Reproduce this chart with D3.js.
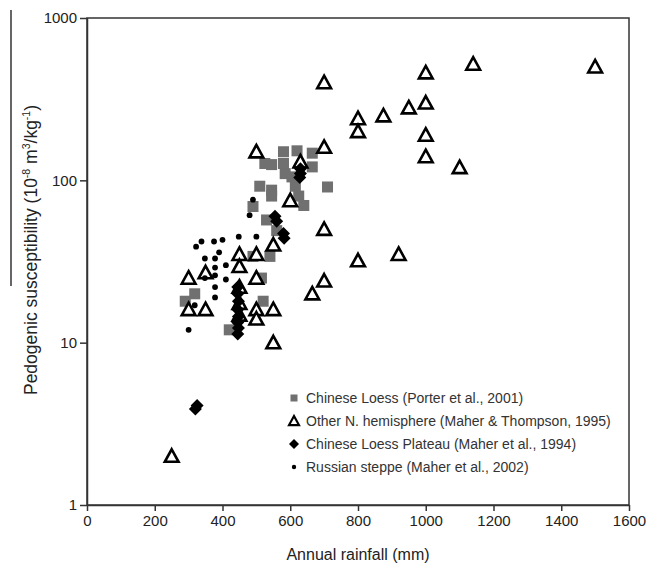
<!DOCTYPE html>
<html><head><meta charset="utf-8">
<script src="https://cdn.jsdelivr.net/npm/d3@7"></script>
<style>
html,body{margin:0;padding:0;background:#fff;}
svg{display:block;font-family:"Liberation Sans",Arial,sans-serif;}
</style></head>
<body>
<svg id="chart" width="649" height="570"></svg>
<script>
// ---- data (annual rainfall mm, pedogenic susceptibility 10^-8 m3/kg) ----
const chineseLoessX = [580,620,665,525,545,580,665,585,510,545,545,615,625,640,710,490,530,560,540,490,515,520,420,318,290,605];
const chineseLoessY = [150,152,147,127,125,127,121,110,92,87,80,92,80,70,91,69,57,49,34,34,25,18,12,20,18,105];

const otherNHX = [250,300,300,350,350,450,450,450,450,450,500,500,500,500,500,550,550,550,600,630,665,700,700,700,700,800,800,800,875,920,950,1000,1000,1000,1000,1100,1140,1500];
const otherNHY = [2,25,16,27,16,35,29.5,22,17.5,14.8,150,35,25,16,14,40,16,10,75,130,20,400,160,50,24,240,200,32,250,35,280,460,300,190,140,120,520,500];

const loessPlateauX = [320,325,630,630,628,555,560,580,582,445,445,447,445,447,445,447,445];
const loessPlateauY = [3.9,4.1,118,110,104,60,56,47,44,22,20,18,16,14.5,13.3,12.3,11.3];

const russianX = [490,480,448,500,338,375,400,390,348,378,410,378,348,378,410,378,318,378,300,322];
const russianY = [76,61,45,45,42,42,43,36,33,33,30,29,25,26,24.5,22,17,19,12,39];

const xTicks = [0,200,400,600,800,1000,1200,1400,1600];
const yTicks = [1,10,100,1000];

const legendLabels = [
  "Chinese Loess (Porter et al., 2001)",
  "Other N. hemisphere (Maher & Thompson, 1995)",
  "Chinese Loess Plateau (Maher et al., 1994)",
  "Russian steppe (Maher et al., 2002)"
];

// ---- chart ----
const svg = d3.select("#chart");
const x = d3.scaleLinear().domain([0,1600]).range([87,629]);
const y = d3.scaleLog().domain([1,1000]).range([505,18]);

const axisColor = "#333";

// stray scan line at top-left
svg.append("line").attr("x1",11).attr("x2",11).attr("y1",10).attr("y2",286)
  .attr("stroke","#000").attr("stroke-width",1.2);

// box
svg.append("rect").attr("x",x(0)).attr("y",y(1000)).attr("width",x(1600)-x(0)).attr("height",y(1)-y(1000))
  .attr("fill","none").attr("stroke",axisColor).attr("stroke-width",1.5);

const gx = svg.append("g").attr("transform",`translate(0,${y(1)})`)
  .call(d3.axisBottom(x).tickValues(xTicks).tickSize(6).tickPadding(4).tickSizeOuter(0).tickFormat(d3.format("d")));
const gy = svg.append("g").attr("transform",`translate(${x(0)},0)`)
  .call(d3.axisLeft(y).tickValues(yTicks).tickSize(7).tickPadding(3).tickSizeOuter(0).tickFormat(d3.format("d")));
[gx,gy].forEach(g=>{
  g.select(".domain").attr("stroke",axisColor).attr("stroke-width",1.5);
  g.selectAll(".tick line").attr("stroke",axisColor).attr("stroke-width",1.5);
  g.selectAll(".tick text").attr("fill","#222").attr("font-size",15)
   .attr("font-family","'Liberation Sans',Arial,sans-serif");
});

// axis titles
svg.append("text").attr("x",(x(0)+x(1600))/2).attr("y",560).attr("text-anchor","middle")
  .attr("font-size",16).attr("fill","#222").text("Annual rainfall (mm)");

const yt = svg.append("text").attr("transform","translate(37,250) rotate(-90)")
  .attr("text-anchor","middle").attr("font-size",17.5).attr("fill","#222");
yt.append("tspan").text("Pedogenic susceptibility (10");
yt.append("tspan").attr("font-size",10.5).attr("dy",-7).text("-8");
yt.append("tspan").attr("dy",7).text(" m");
yt.append("tspan").attr("font-size",10.5).attr("dy",-7).text("3");
yt.append("tspan").attr("dy",7).text("/kg");
yt.append("tspan").attr("font-size",10.5).attr("dy",-7).text("-1");
yt.append("tspan").attr("dy",7).text(")");

// marker shapes
const triPath = (s)=>`M0,${-s*0.55}L${s*0.55},${s*0.45}L${-s*0.55},${s*0.45}Z`;
const diaPath = (s)=>`M0,${-s/2}L${s/2},0L0,${s/2}L${-s/2},0Z`;

const plot = svg.append("g");
// Chinese loess squares
plot.selectAll("rect.cl").data(d3.zip(chineseLoessX,chineseLoessY)).join("rect")
  .attr("class","cl").attr("x",d=>x(d[0])-5.5).attr("y",d=>y(d[1])-5.5)
  .attr("width",11).attr("height",11).attr("fill","#707070");
// other NH triangles
plot.selectAll("path.nh").data(d3.zip(otherNHX,otherNHY)).join("path")
  .attr("class","nh").attr("d",triPath(12.5))
  .attr("transform",d=>`translate(${x(d[0])},${y(d[1])})`)
  .attr("fill","#fff").attr("stroke","#000").attr("stroke-width",2.6).attr("stroke-linejoin","miter");
// Loess plateau diamonds
plot.selectAll("path.lp").data(d3.zip(loessPlateauX,loessPlateauY)).join("path")
  .attr("class","lp").attr("d",diaPath(13))
  .attr("transform",d=>`translate(${x(d[0])},${y(d[1])})`)
  .attr("fill","#000");
// Russian steppe dots
plot.selectAll("circle.rs").data(d3.zip(russianX,russianY)).join("circle")
  .attr("class","rs").attr("cx",d=>x(d[0])).attr("cy",d=>y(d[1])).attr("r",2.9).attr("fill","#000");

// legend
const lg = svg.append("g").attr("transform","translate(294,398)");
const rowH = 23;
legendLabels.forEach((t,i)=>{
  const g = lg.append("g").attr("transform",`translate(0,${i*rowH})`);
  if(i===0) g.append("rect").attr("x",-3.5).attr("y",-3.5).attr("width",7).attr("height",7).attr("fill","#707070");
  if(i===1) g.append("path").attr("d",triPath(9)).attr("fill","#fff").attr("stroke","#000").attr("stroke-width",2.2);
  if(i===2) g.append("path").attr("d",diaPath(10)).attr("fill","#000");
  if(i===3) g.append("circle").attr("r",2.2).attr("fill","#000");
  g.append("text").attr("x",12).attr("y",0).attr("dy","0.35em").attr("font-size",14).attr("fill","#333").text(t);
});
</script>
</body></html>
